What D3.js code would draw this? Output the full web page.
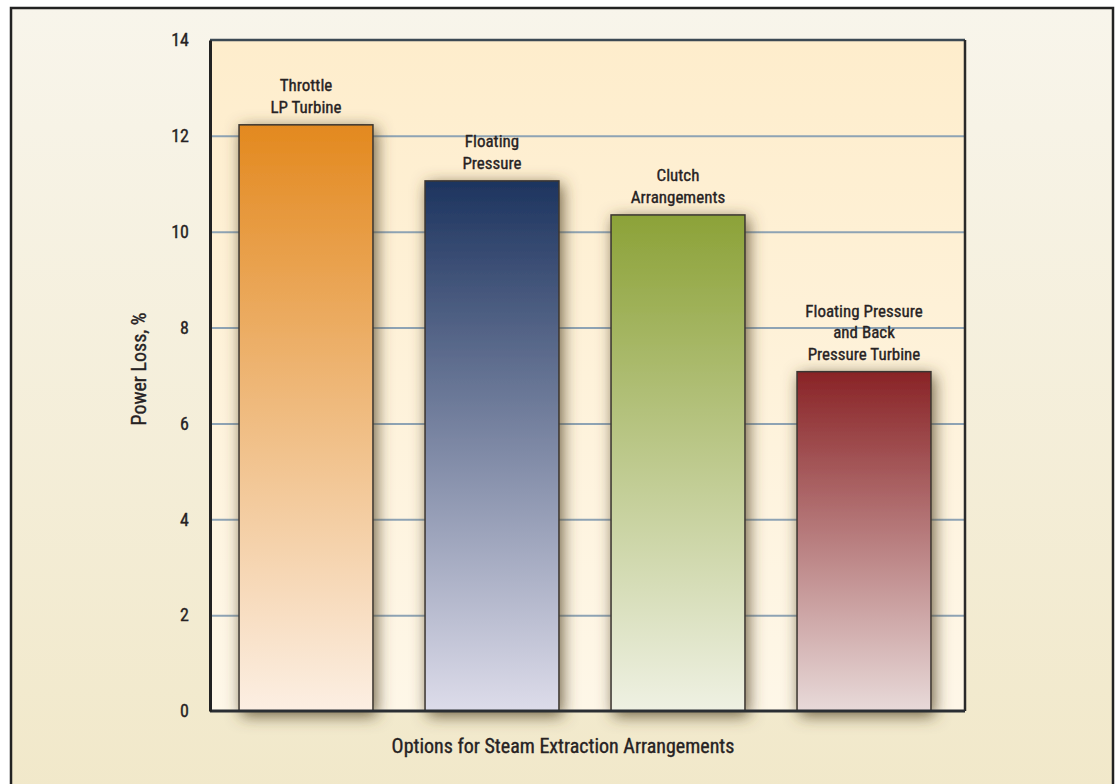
<!DOCTYPE html>
<html>
<head>
<meta charset="utf-8">
<script src="https://cdn.jsdelivr.net/npm/d3@7"></script>
<style>
  html, body { margin: 0; padding: 0; background: #ffffff; }
  svg { display: block; }
  text { font-family: "Liberation Sans Narrow", "Roboto Condensed", "DejaVu Sans Condensed", sans-serif; fill: #262223; stroke: #262223; stroke-width: 0.35px; }
</style>
</head>
<body>
<script>
// Power loss by steam extraction option
const categories = ["Throttle LP Turbine", "Floating Pressure", "Clutch Arrangements", "Floating Pressure and Back Pressure Turbine"];
const labelLines = [["Throttle", "LP Turbine"], ["Floating", "Pressure"], ["Clutch", "Arrangements"], ["Floating Pressure", "and Back", "Pressure Turbine"]];
const powerLoss = [12.23, 11.06, 10.35, 7.08];
const yTicks = [0, 2, 4, 6, 8, 10, 12, 14];
const topColors = ["#e3891f", "#1d345f", "#8ca238", "#892326"];
const bottomColors = ["#fcefe3", "#dddcea", "#eff1e3", "#e8dad9"];

const W = 1116, H = 784;
const plot = { left: 210, right: 965, top: 40, bottom: 711 };

const svg = d3.select("body").append("svg").attr("width", W).attr("height", H);
const defs = svg.append("defs");

// Gradients
const outerGrad = defs.append("linearGradient").attr("id", "outerBg").attr("x1", 0).attr("y1", 0).attr("x2", 0).attr("y2", 1);
outerGrad.append("stop").attr("offset", "0%").attr("stop-color", "#f8f5eb");
outerGrad.append("stop").attr("offset", "100%").attr("stop-color", "#f1e8c9");

const plotGrad = defs.append("linearGradient").attr("id", "plotBg").attr("x1", 0).attr("y1", 0).attr("x2", 0).attr("y2", 1);
plotGrad.append("stop").attr("offset", "0%").attr("stop-color", "#feedcc");
plotGrad.append("stop").attr("offset", "100%").attr("stop-color", "#fef7e8");

categories.forEach((c, i) => {
  const g = defs.append("linearGradient").attr("id", "barGrad" + i).attr("x1", 0).attr("y1", 0).attr("x2", 0).attr("y2", 1);
  g.append("stop").attr("offset", "0%").attr("stop-color", topColors[i]);
  g.append("stop").attr("offset", "100%").attr("stop-color", bottomColors[i]);
});

const shadow = defs.append("filter").attr("id", "barShadow").attr("x", "-30%").attr("y", "-20%").attr("width", "160%").attr("height", "140%");
shadow.append("feDropShadow").attr("dx", 3).attr("dy", 4).attr("stdDeviation", 8)
  .attr("flood-color", "#5a4c2c").attr("flood-opacity", 0.85);

// Outer panel
svg.append("rect").attr("x", 11).attr("y", 8).attr("width", 1102).attr("height", 800)
  .attr("fill", "url(#outerBg)").attr("stroke", "#222222").attr("stroke-width", 2.5);

// Plot background
svg.append("rect").attr("x", plot.left).attr("y", plot.top)
  .attr("width", plot.right - plot.left).attr("height", plot.bottom - plot.top)
  .attr("fill", "url(#plotBg)");

const x = d3.scaleBand().domain(categories).range([213, 957]).paddingInner(0.28).paddingOuter(0.14);
const y = d3.scaleLinear().domain([0, 14]).range([plot.bottom, plot.top]);

// Gridlines
svg.append("g").attr("transform", `translate(${plot.left},0)`)
  .call(d3.axisLeft(y).tickValues(yTicks.filter(v => v > 0 && v < 14)).tickSize(-(plot.right - plot.left)).tickFormat(""))
  .call(g => g.select(".domain").remove())
  .call(g => g.selectAll("line").attr("stroke", "#8ea3b4").attr("stroke-width", 2));

// Bars
svg.append("g").selectAll("rect").data(categories).join("rect")
  .attr("x", d => x(d))
  .attr("y", (d, i) => y(powerLoss[i]))
  .attr("width", x.bandwidth())
  .attr("height", (d, i) => y(0) - y(powerLoss[i]))
  .attr("fill", (d, i) => `url(#barGrad${i})`)
  .attr("stroke", "#3b3631").attr("stroke-width", 1.5)
  .attr("filter", "url(#barShadow)");

// Plot frame
svg.append("line").attr("x1", plot.left).attr("x2", plot.right).attr("y1", plot.top).attr("y2", plot.top)
  .attr("stroke", "#3c4953").attr("stroke-width", 2.5);
svg.append("line").attr("x1", plot.right).attr("x2", plot.right).attr("y1", plot.top).attr("y2", plot.bottom)
  .attr("stroke", "#2a2a2a").attr("stroke-width", 2.5);
svg.append("line").attr("x1", plot.left).attr("x2", plot.right).attr("y1", plot.bottom).attr("y2", plot.bottom)
  .attr("stroke", "#2a2e33").attr("stroke-width", 3);

// Y axis
svg.append("g").attr("transform", `translate(${plot.left},0)`)
  .call(d3.axisLeft(y).tickValues(yTicks).tickSize(0).tickPadding(21).tickFormat(d3.format("d")))
  .call(g => g.select(".domain").attr("stroke", "#222222").attr("stroke-width", 3))
  .call(g => g.selectAll("text").attr("font-size", 18).attr("fill", "#262223")
    .attr("font-family", "\"Liberation Sans Narrow\", \"Roboto Condensed\", \"DejaVu Sans Condensed\", sans-serif"));

// Bar labels
const labels = svg.append("g").selectAll("text").data(categories).join("text")
  .attr("text-anchor", "middle").attr("font-size", 17)
  .attr("x", d => x(d) + x.bandwidth() / 2)
  .attr("y", (d, i) => y(powerLoss[i]) - 12 - (labelLines[i].length - 1) * 21.5);
labels.each(function(d, i) {
  const t = d3.select(this);
  labelLines[i].forEach((line, j) => {
    t.append("tspan").attr("x", x(d) + x.bandwidth() / 2).attr("dy", j === 0 ? 0 : 21.5).text(line);
  });
});

// Axis titles
svg.append("text").attr("x", 563).attr("y", 753).attr("text-anchor", "middle").attr("font-size", 20)
  .text("Options for Steam Extraction Arrangements");
svg.append("text").attr("transform", "translate(146,369) rotate(-90)").attr("text-anchor", "middle").attr("font-size", 20)
  .text("Power Loss, %");
</script>
</body>
</html>
